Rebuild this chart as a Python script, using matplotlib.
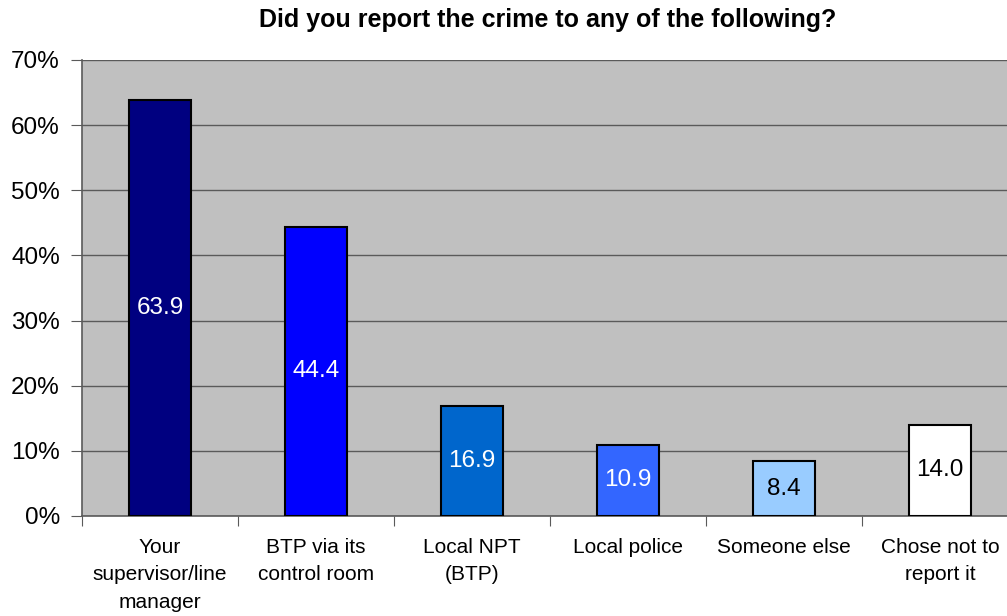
import matplotlib
matplotlib.use("Agg")
import matplotlib.pyplot as plt
import numpy as np

# Survey responses (% of respondents)
categories = ["Your\nsupervisor/line\nmanager", "BTP via its\ncontrol room",
              "Local NPT\n(BTP)", "Local police", "Someone else",
              "Chose not to\nreport it"]
values = [63.9, 44.4, 16.9, 10.9, 8.4, 14.0]
bar_colors = ["#000080", "#0000FF", "#0066CC", "#3366FF", "#99CCFF", "#FFFFFF"]
label_colors = ["white", "white", "white", "white", "black", "black"]
yticks = [0, 10, 20, 30, 40, 50, 60, 70]

plt.rcParams["font.family"] = ["Liberation Sans", "DejaVu Sans"]

fig = plt.figure(figsize=(10.07, 6.16), dpi=100)
ax = fig.add_axes([82 / 1007, 1 - 516 / 616, (1018 - 82) / 1007, (516 - 60) / 616])
ax.set_facecolor("#C0C0C0")

x = np.arange(len(categories))
bars = ax.bar(x, values, width=0.4, color=bar_colors, edgecolor="black",
              linewidth=1.5, zorder=3)

for b, v, c in zip(bars, values, label_colors):
    ax.text(b.get_x() + b.get_width() / 2, v / 2, f"{v:.1f}",
            ha="center", va="center", color=c, fontsize=17.5, zorder=4)

ax.set_xlim(-0.5, len(categories) - 0.5)
ax.set_ylim(0, 70)
ax.set_yticks(yticks)
ax.set_yticklabels([f"{t}%" for t in yticks], fontsize=17.5)
ax.yaxis.grid(True, color="#5A5A5A", linewidth=1, zorder=1)

# category boundaries get tick marks, labels sit at the centres
ax.set_xticks(np.arange(len(categories) + 1) - 0.5)
ax.set_xticklabels([])
ax.set_xticks(x, minor=True)
ax.set_xticklabels(categories, minor=True, fontsize=15, linespacing=1.55)
ax.tick_params(axis="x", which="major", length=7, color="#5A5A5A", direction="out")
ax.tick_params(axis="x", which="minor", length=0, pad=16)
ax.tick_params(axis="y", length=8, color="#5A5A5A", pad=8)

for side in ["top", "right"]:
    ax.spines[side].set_visible(False)
for side in ["left", "bottom"]:
    ax.spines[side].set_color("#5A5A5A")
    ax.spines[side].set_linewidth(1.2)

fig.text(548 / 1007, 1 - 20 / 616, "Did you report the crime to any of the following?",
         ha="center", va="center", fontsize=18, fontweight="bold")

fig.savefig("out.png", dpi=100)
